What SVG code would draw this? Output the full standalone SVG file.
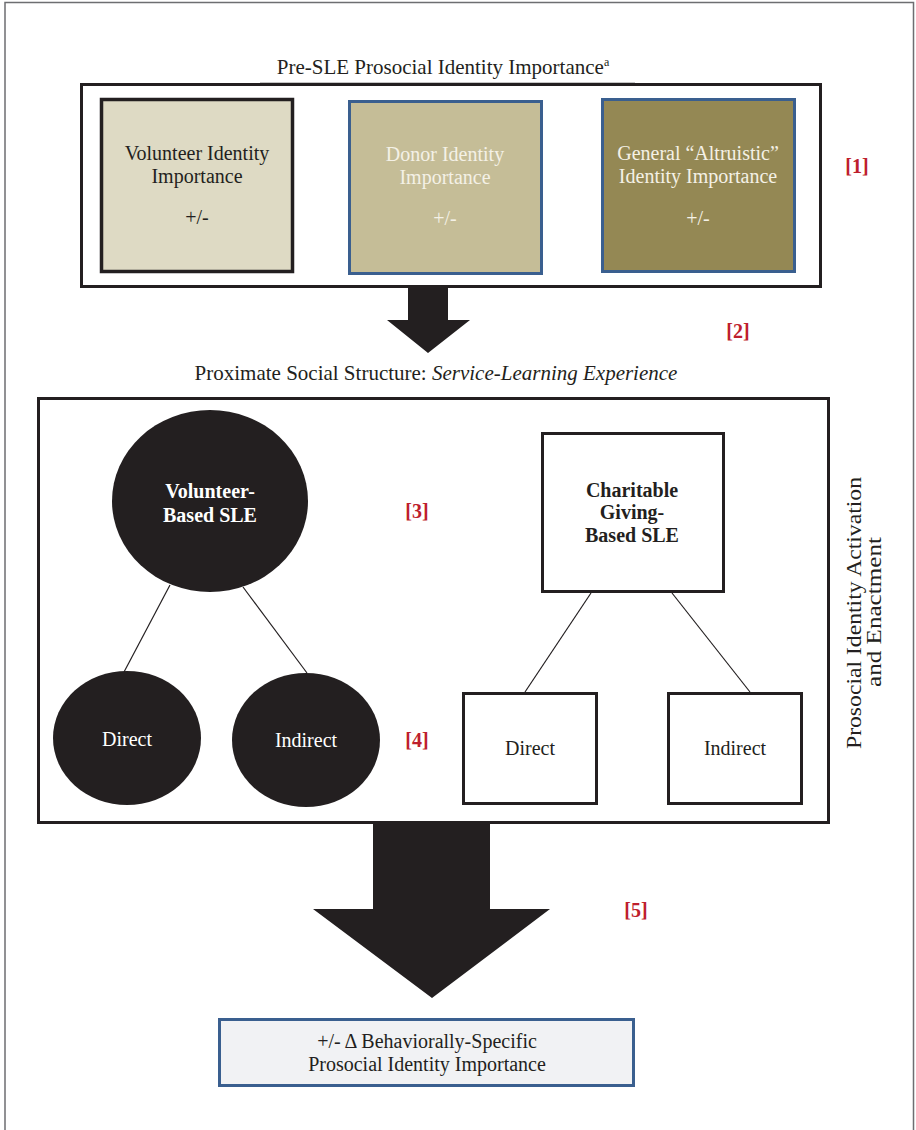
<svg xmlns="http://www.w3.org/2000/svg" width="916" height="1130" viewBox="0 0 916 1130">
<defs>
<style>
text{font-family:"Liberation Serif","Times New Roman",serif;fill:#231f20;}
.t{font-size:21px;}
.n{font-size:20px;text-anchor:middle;}
.w{fill:#f4f1e6;}
.b{font-weight:bold;}
.wb{fill:#ffffff;font-weight:bold;}
.ref{font-size:20px;font-weight:bold;fill:#be1e2d;text-anchor:middle;}
.frame{fill:none;stroke:#231f20;stroke-width:3;}
.blk{fill:#231f20;}
.conn{stroke:#231f20;stroke-width:1.2;fill:none;}
</style>
</defs>
<rect width="916" height="1130" fill="#ffffff"/>
<g id="page-border" fill="none" stroke="#6d6e71" stroke-width="1.5">
<path d="M5 1130 V2.5 H913.5 V1130"/>
</g>

<g id="pre-sle">
<text class="t" x="443" y="74" text-anchor="middle">Pre-SLE Prosocial Identity Importance<tspan font-size="12" dy="-8">a</tspan></text>
<line x1="260" y1="83" x2="635" y2="83" stroke="#8a8a8a" stroke-width="1"/>
<rect class="frame" x="81.5" y="84.5" width="739" height="202"/>
</g>

<g id="volunteer-identity">
<rect x="101.5" y="99.5" width="191" height="172" fill="#dedac4" stroke="#231f20" stroke-width="3.5"/>
<text class="n" x="197" y="160">Volunteer Identity</text>
<text class="n" x="197" y="183">Importance</text>
<text class="n" x="197" y="224">+/-</text>
</g>

<g id="donor-identity">
<rect x="349.5" y="101.5" width="192" height="172" fill="#c5bd97" stroke="#3a5f8f" stroke-width="3"/>
<text class="n w" x="445" y="161">Donor Identity</text>
<text class="n w" x="445" y="184">Importance</text>
<text class="n w" x="445" y="225">+/-</text>
</g>

<g id="general-identity">
<rect x="602.5" y="99.5" width="192" height="172" fill="#948854" stroke="#3a5f8f" stroke-width="3"/>
<text class="n w" x="698" y="160">General “Altruistic”</text>
<text class="n w" x="698" y="183">Identity Importance</text>
<text class="n w" x="698" y="225">+/-</text>
</g>

<g id="label-1"><text class="ref" x="857" y="173">[1]</text></g>
<g id="label-2"><text class="ref" x="738" y="338">[2]</text></g>

<g id="arrow-1">
<path class="blk" d="M408 288 H448 V320 H470 L428 353 L387 320 H408 Z"/>
</g>

<g id="sle">
<text class="t" x="436" y="380" text-anchor="middle">Proximate Social Structure: <tspan font-style="italic">Service-Learning Experience</tspan></text>
<rect class="frame" x="38.5" y="398.5" width="790" height="424"/>
</g>

<g id="connectors">
<line class="conn" x1="170" y1="585" x2="124" y2="672"/>
<line class="conn" x1="243" y1="587" x2="307" y2="673"/>
<line class="conn" x1="591" y1="593" x2="525" y2="692"/>
<line class="conn" x1="672" y1="593" x2="750" y2="692"/>
</g>

<g id="volunteer-sle">
<ellipse class="blk" cx="210" cy="501" rx="98" ry="91"/>
<text class="n wb" x="210" y="498">Volunteer-</text>
<text class="n wb" x="210" y="522">Based SLE</text>
</g>

<g id="vol-direct">
<ellipse class="blk" cx="127" cy="738" rx="74" ry="67"/>
<text class="n" x="127" y="746" style="fill:#ffffff">Direct</text>
</g>

<g id="vol-indirect">
<ellipse class="blk" cx="306" cy="740" rx="74" ry="67"/>
<text class="n" x="306" y="747" style="fill:#ffffff">Indirect</text>
</g>

<g id="charitable-sle">
<rect x="542.5" y="433.5" width="181" height="158" fill="#ffffff" stroke="#231f20" stroke-width="3"/>
<text class="n b" x="632" y="497">Charitable</text>
<text class="n b" x="632" y="519">Giving-</text>
<text class="n b" x="632" y="542">Based SLE</text>
</g>

<g id="char-direct">
<rect x="463.5" y="693.5" width="133" height="110" fill="#ffffff" stroke="#231f20" stroke-width="3"/>
<text class="n" x="530" y="755">Direct</text>
</g>

<g id="char-indirect">
<rect x="668.5" y="693.5" width="133" height="110" fill="#ffffff" stroke="#231f20" stroke-width="3"/>
<text class="n" x="735" y="755">Indirect</text>
</g>

<g id="label-3"><text class="ref" x="417" y="518">[3]</text></g>
<g id="label-4"><text class="ref" x="417" y="747">[4]</text></g>

<g id="side-label">
<text class="n" transform="translate(861 613) rotate(-90)" x="0" y="0" textLength="272" lengthAdjust="spacingAndGlyphs">Prosocial Identity Activation</text>
<text class="n" transform="translate(881 612) rotate(-90)" x="0" y="0" textLength="150" lengthAdjust="spacingAndGlyphs">and Enactment</text>
</g>

<g id="arrow-2">
<path class="blk" d="M373 823 H490 V909 H550 L432 998 L313 909 H373 Z"/>
</g>

<g id="label-5"><text class="ref" x="636" y="917">[5]</text></g>

<g id="outcome">
<rect x="219.5" y="1019.5" width="414" height="66" fill="#f1f2f4" stroke="#3a5f8f" stroke-width="3"/>
<text class="n" x="427" y="1048">+/- Δ Behaviorally-Specific</text>
<text class="n" x="427" y="1071">Prosocial Identity Importance</text>
</g>
</svg>
